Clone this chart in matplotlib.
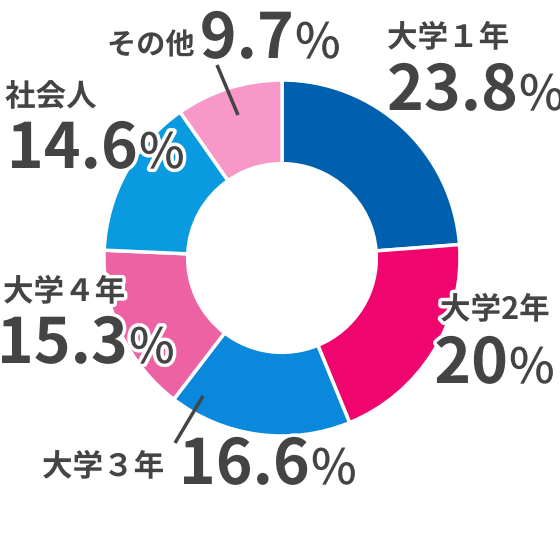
import matplotlib
matplotlib.use("Agg")
import matplotlib.pyplot as plt
import matplotlib.patheffects as pe

labels = ["大学１年", "大学2年", "大学３年", "大学４年", "社会人", "その他"]
values = [23.8, 20, 16.6, 15.3, 14.6, 9.7]
value_texts = ["23.8", "20", "16.6", "15.3", "14.6", "9.7"]
colors = ["#0060b0", "#f0046e", "#0a88dc", "#ec62a2", "#0a9ae0", "#f898c8"]

plt.rcParams['font.family'] = ['Noto Sans CJK JP', 'DejaVu Sans']

W = 560
fig = plt.figure(figsize=(5.6, 5.6), dpi=100)
ax = fig.add_axes([0, 0, 1, 1])

def Y(yp):
    # pixel row -> data y
    return W - yp

cx, cy, R = 282, Y(258), 178
ax.pie(values, colors=colors, startangle=90, counterclock=False,
       center=(cx, cy), radius=R, frame=True,
       wedgeprops=dict(width=R * 0.47, edgecolor="white", linewidth=2.5))
ax.set_xlim(0, W)
ax.set_ylim(0, W)
ax.set_aspect('equal')
ax.axis('off')

txt = "#444444"
halo = [pe.withStroke(linewidth=5, foreground="white")]

# leader lines
ax.plot([217, 238], [Y(65), Y(115)], color=txt, lw=2.5, solid_capstyle='butt')
ax.plot([203, 175], [Y(396), Y(443)], color=txt, lw=2.5, solid_capstyle='butt')

# (label x, label center y, number right edge x, number baseline y, label size)
pos = [
    (387, 38, 518, 110, 22),
    (440, 310, 508, 383, 22),
    (42, 467, 310, 484, 22),
    (3, 292, 128, 363, 22),
    (5, 97, 138, 168, 22),
    (107, 45, 294, 58, 21),
]

for i in range(6):
    lx, ly, nx, ny, fs = pos[i]
    ax.text(lx, Y(ly), labels[i], fontsize=fs, fontweight='bold', color=txt,
            ha='left', va='center', path_effects=halo)
    ax.text(nx, Y(ny), value_texts[i], fontsize=45, fontweight='bold', color=txt,
            ha='right', va='baseline', path_effects=halo)
    ax.text(nx + 1, Y(ny), "%", fontsize=35, fontweight='medium', color=txt,
            ha='left', va='baseline', path_effects=halo)

fig.savefig("out.png", dpi=100)
